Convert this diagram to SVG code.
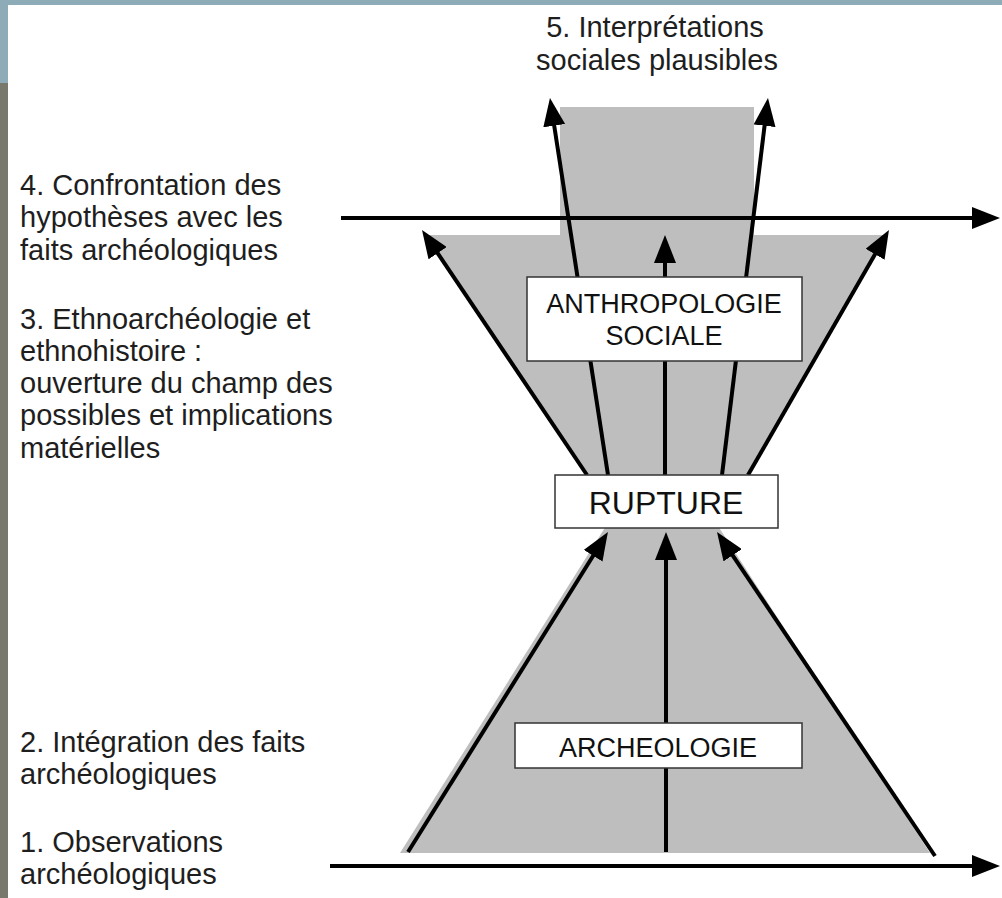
<svg xmlns="http://www.w3.org/2000/svg" width="1002" height="898" viewBox="0 0 1002 898">
<style>
.bg{fill:#ffffff}
.band{fill:#8eacb7}
.strip{fill:#78786b}
.shade{fill:#bebebe}
.ln{stroke:#000;stroke-width:4;fill:none;stroke-linecap:butt}
.box{fill:#fff;stroke:#333;stroke-width:1.5}
.lbl{font-family:"Liberation Sans",Arial,Helvetica,sans-serif;font-size:29px;fill:#1e1e1e}
.blbl{font-family:"Liberation Sans",Arial,Helvetica,sans-serif;font-size:27px;fill:#111;text-anchor:middle}
</style>
<defs>
<marker id="ah" viewBox="0 0 28 22" refX="6" refY="11" markerWidth="28" markerHeight="22" markerUnits="userSpaceOnUse" orient="auto">
<path d="M0,0 L28,11 L0,22 z" fill="#000"/>
</marker>
</defs>
<g id="background">
<rect class="bg" x="0" y="0" width="1002" height="898"/>
<rect class="band" x="0" y="0" width="1002" height="5"/>
<rect class="band" x="0" y="0" width="8" height="83"/>
<rect class="strip" x="0" y="83" width="8" height="815"/>
</g>
<g id="shading">
<polygon class="shade" points="560,107 754,107 754,235 887,235 746,478 589,478 424,235 560,235"/>
<polygon class="shade" points="400,853 606,526 718,526 930,853"/>
</g>
<g id="connectors">
<line class="ln" x1="341" y1="218" x2="978" y2="218" marker-end="url(#ah)"/>
<line class="ln" x1="330" y1="866" x2="978" y2="866" marker-end="url(#ah)"/>
<line class="ln" x1="587" y1="475" x2="434.3" y2="248.2" marker-end="url(#ah)"/>
<line class="ln" x1="748" y1="475" x2="878" y2="249.1" marker-end="url(#ah)"/>
<line class="ln" x1="608" y1="475" x2="553.3" y2="119.7" marker-end="url(#ah)"/>
<line class="ln" x1="722" y1="475" x2="765.3" y2="119.8" marker-end="url(#ah)"/>
<line class="ln" x1="665" y1="475" x2="665" y2="257" marker-end="url(#ah)"/>
<line class="ln" x1="408" y1="852" x2="596.3" y2="550.7" marker-end="url(#ah)"/>
<line class="ln" x1="666" y1="852" x2="666" y2="554" marker-end="url(#ah)"/>
<line class="ln" x1="935" y1="856" x2="729.3" y2="550.3" marker-end="url(#ah)"/>
</g>
<g id="node-anthropologie">
<rect class="box" x="527" y="277" width="275" height="84"/>
<text class="blbl" x="664" y="313">ANTHROPOLOGIE</text>
<text class="blbl" x="664" y="345">SOCIALE</text>
</g>
<g id="node-rupture">
<rect class="box" x="555" y="475" width="223" height="53"/>
<text class="blbl" x="666" y="514" style="font-size:32px">RUPTURE</text>
</g>
<g id="node-archeologie">
<rect class="box" x="515" y="723" width="287" height="45"/>
<text class="blbl" x="658" y="757">ARCHEOLOGIE</text>
</g>
<g id="label-5">
<text class="lbl" x="655" y="37" text-anchor="middle">5. Interprétations</text>
<text class="lbl" x="657" y="70" text-anchor="middle">sociales plausibles</text>
</g>
<g id="label-4">
<text class="lbl" x="20" y="195">4. Confrontation des</text>
<text class="lbl" x="20" y="227">hypothèses avec les</text>
<text class="lbl" x="20" y="260">faits archéologiques</text>
</g>
<g id="label-3">
<text class="lbl" x="20" y="329">3. Ethnoarchéologie et</text>
<text class="lbl" x="20" y="361">ethnohistoire :</text>
<text class="lbl" x="20" y="393">ouverture du champ des</text>
<text class="lbl" x="20" y="425">possibles et implications</text>
<text class="lbl" x="20" y="458">matérielles</text>
</g>
<g id="label-2">
<text class="lbl" x="20" y="752">2. Intégration des faits</text>
<text class="lbl" x="20" y="784">archéologiques</text>
</g>
<g id="label-1">
<text class="lbl" x="20" y="852">1. Observations</text>
<text class="lbl" x="20" y="884">archéologiques</text>
</g>
</svg>
